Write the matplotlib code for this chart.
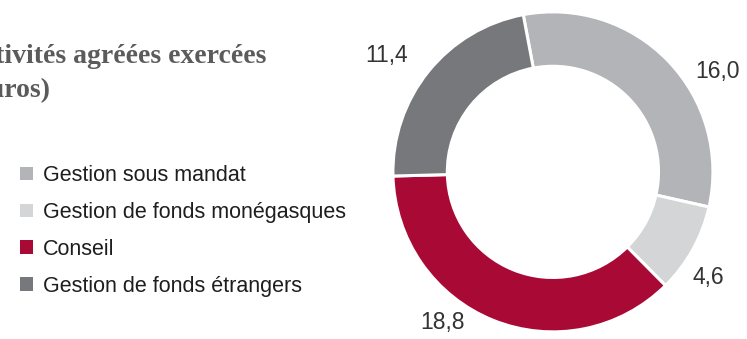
import matplotlib

matplotlib.use("Agg")
import matplotlib.pyplot as plt  # noqa: E402

# Agreed activities, millions of euros
categories = [
    "Gestion sous mandat",
    "Gestion de fonds monégasques",
    "Conseil",
    "Gestion de fonds étrangers",
]
values = [16.0, 4.6, 18.8, 11.4]
value_labels = ["16,0", "4,6", "18,8", "11,4"]
colors = ["#b3b4b7", "#d4d5d7", "#a80a35", "#77787b"]

# where each value label sits, in donut data units (outer radius = 1)
label_xy = [(1.03, 0.63), (0.97, -0.66), (-0.69, -0.94), (-1.04, 0.73)]

fig = plt.figure(figsize=(7.47, 3.39), dpi=100)

ax = fig.add_axes([0.526, 0.021, 0.4284, 0.944])
wedges, _ = ax.pie(
    values,
    colors=colors,
    startangle=100.7,
    counterclock=False,
    radius=1.0,
    wedgeprops=dict(width=0.34, edgecolor="white", linewidth=2.2),
)
ax.set_xlim(-1, 1)
ax.set_ylim(-1, 1)
ax.set_aspect("equal")
ax.axis("off")

for (x, y), txt in zip(label_xy, value_labels):
    ax.text(x, y, txt, ha="center", va="center", fontsize=16.5,
            family="Liberation Sans", color="#333333", clip_on=False)

# title runs off the left edge of the figure
title_kw = dict(family="Liberation Serif", fontweight="bold", fontsize=20,
                color="#5b5b5b", ha="right", va="baseline")
fig.text(266 / 747, 1 - 63 / 339, "Répartition des activités agréées exercées", **title_kw)
fig.text(50 / 747, 1 - 97 / 339, "(en millions d'euros)", **title_kw)

fig.legend(
    wedges, categories,
    loc="upper left", bbox_to_anchor=(20 / 747, 1 - 165 / 339),
    frameon=False, prop={"family": "Liberation Sans", "size": 15.5},
    handlelength=0.6, handleheight=0.6, handletextpad=0.45,
    labelspacing=0.74, borderpad=0, borderaxespad=0,
    labelcolor="#1e1e1e",
)
for h in fig.legends[0].legend_handles:
    h.set_edgecolor("none")

fig.savefig("out.png", dpi=100)
